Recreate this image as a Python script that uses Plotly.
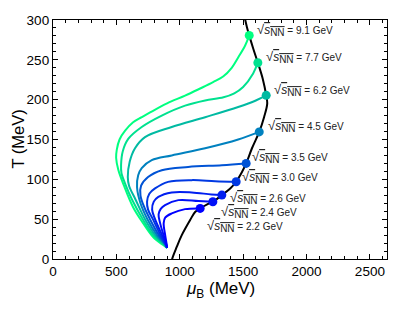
import math
import plotly.graph_objects as go

# ---- data ----
energies = ["9.1", "7.7", "6.2", "4.5", "3.5", "3.0", "2.6", "2.4", "2.2"]

mu_91 = [900, 869, 790, 711, 632, 560, 515, 498, 503, 525, 569, 632, 700, 766, 900, 1042, 1161, 1263, 1342, 1410, 1461, 1516, 1548]
T_91 = [14, 17.5, 27.6, 45, 65, 92, 112, 127, 137, 150, 161, 171.6, 178, 184, 195.4, 205, 214, 222, 229, 240, 253, 268, 280.7]

mu_77 = [900, 875, 790, 708, 625, 568, 540, 537, 550, 595, 700, 858, 1042, 1200, 1345, 1430, 1500, 1579, 1616]
T_77 = [14, 18, 30, 50, 74, 95, 108, 118, 135, 151, 165.7, 180, 192.5, 199, 203, 208, 216, 233, 246.4]

mu_62 = [900, 880, 805, 726, 650, 600, 590, 605, 647, 726, 937, 1200, 1461, 1600, 1682]
T_62 = [14, 18, 30, 50, 75, 92, 103, 122, 139, 153, 165.7, 178, 190.8, 199, 205.4]

mu_45 = [900, 885, 820, 745, 690, 663, 672, 700, 779, 937, 1200, 1461, 1627]
T_45 = [14, 18, 30, 50, 70, 90, 105, 114, 124, 130, 139, 150, 159.5]

mu_35 = [900, 888, 835, 765, 720, 690, 695, 750, 858, 1066, 1332, 1524]
T_35 = [14, 18, 30, 50, 65, 80, 92, 103, 111.5, 115.6, 117.8, 120]

mu_30 = [900, 890, 848, 788, 750, 742, 760, 805, 908, 1095, 1279, 1445]
T_30 = [14, 18, 30, 50, 62, 72, 82, 88.6, 96.8, 99, 97.7, 97]

mu_26 = [900, 892, 860, 805, 782, 795, 831, 937, 1095, 1250, 1332]
T_26 = [14, 18, 30, 50, 62, 72, 78, 83.6, 83.6, 81, 80.2]

mu_24 = [900, 895, 872, 845, 833, 850, 884, 989, 1147, 1261]
T_24 = [14, 18, 30, 45, 56, 63, 67.6, 73.9, 72.7, 71.8]

mu_22 = [900, 897, 885, 873, 885, 937, 1042, 1161]
T_22 = [14, 18, 30, 45, 52, 57.2, 62.6, 63.5]

mu_fo = [935, 940, 977, 1016, 1082, 1121, 1161, 1220, 1261, 1332, 1398, 1445, 1490, 1524, 1569, 1627, 1665, 1690, 1682, 1655, 1616, 1580, 1548, 1530, 1514]
T_fo = [-5, 0, 15.4, 30, 49, 59, 63.5, 69, 71.8, 80.2, 88.6, 97, 109, 120, 138.7, 159.5, 178, 195, 205.4, 226, 246.4, 264, 280.7, 291, 302]

label_shift = [(8, 5), (8, 6), (8, 5), (9, 6), (6, 6), (6, 5), (8, -3), (8, -10), (7, -18)]

x_ticks = [0, 500, 1000, 1500, 2000, 2500]
y_ticks = [0, 50, 100, 150, 200, 250, 300]

mus = [mu_91, mu_77, mu_62, mu_45, mu_35, mu_30, mu_26, mu_24, mu_22]
Ts = [T_91, T_77, T_62, T_45, T_35, T_30, T_26, T_24, T_22]


def winter(f):
    # matplotlib "winter" colormap: blue -> spring green
    return "rgb(0,%d,%d)" % (round(255 * f), round(255 * (1 - 0.5 * f)))


lo, hi = math.log(2.2), math.log(9.1)
colors = [winter((math.log(float(e)) - lo) / (hi - lo)) for e in energies]

FONT = "Liberation Sans, Arial, sans-serif"

fig = go.Figure()
for mu, T, c in zip(mus, Ts, colors):
    fig.add_trace(go.Scatter(x=mu, y=T, mode="lines",
                             line=dict(color=c, width=2, shape="spline", smoothing=1.0),
                             showlegend=False, hoverinfo="skip"))

fig.add_trace(go.Scatter(x=mu_fo, y=T_fo, mode="lines",
                         line=dict(color="black", width=2, shape="spline", smoothing=1.0),
                         showlegend=False, hoverinfo="skip"))

fig.add_trace(go.Scatter(x=[m[-1] for m in mus], y=[t[-1] for t in Ts], mode="markers",
                         marker=dict(color=colors, size=9, line=dict(width=0)),
                         showlegend=False, hoverinfo="skip"))

sqrt_s = ("<span style='font-size:13px'>√</span>"
          "<span style='text-decoration:overline'><span style='font-size:12px'><i>s</i></span>"
          "<sub><span style='font-size:10px'>NN</span></sub></span>")

for e, mu, T, (dx, dy) in zip(energies, mus, Ts, label_shift):
    fig.add_annotation(
        x=mu[-1], y=T[-1], xref="x", yref="y",
        text=sqrt_s + " = " + e + " GeV",
        showarrow=False, xanchor="left", yanchor="middle",
        xshift=dx - 2, yshift=dy,
        font=dict(family=FONT, size=10, color="#222"))

# axis titles as annotations for exact placement
fig.add_annotation(x=0.5, y=0, xref="paper", yref="paper",
                   text="<i>μ</i><sub>B</sub> (MeV)", showarrow=False,
                   xanchor="center", yanchor="middle", yshift=-31,
                   font=dict(family=FONT, size=17, color="black"))
fig.add_annotation(x=0, y=0.5, xref="paper", yref="paper",
                   text="T (MeV)", showarrow=False, textangle=-90,
                   xanchor="center", yanchor="middle", xshift=-36,
                   font=dict(family=FONT, size=16.5, color="black"))

axis_common = dict(
    showline=True, linecolor="black", linewidth=1.3, mirror="ticks",
    ticks="inside", ticklen=5, tickwidth=1, tickcolor="black",
    showgrid=False, zeroline=False, automargin=False,
    tickfont=dict(family=FONT, size=13.5, color="black"),
)

# the page body adds an 8 px offset, so margins are reduced accordingly
fig.update_layout(
    width=399, height=308,
    margin=dict(l=45, r=20, t=12, b=57, autoexpand=False),
    plot_bgcolor="white", paper_bgcolor="white",
    xaxis=dict(range=[0, 2635], tickvals=x_ticks,
               minor=dict(ticks="inside", dtick=100, ticklen=3, tickcolor="black", showgrid=False),
               **axis_common),
    yaxis=dict(range=[0, 300], tickvals=y_ticks,
               minor=dict(ticks="inside", dtick=10, ticklen=3, tickcolor="black", showgrid=False),
               **axis_common),
)

fig.write_html("out.html")
